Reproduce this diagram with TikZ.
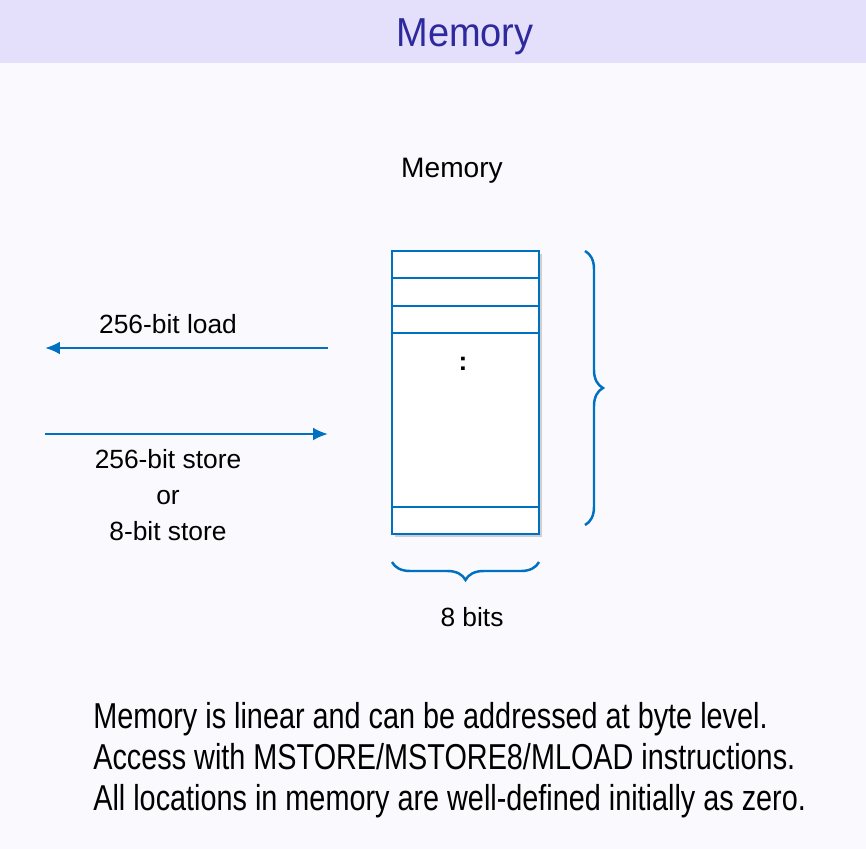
\documentclass[tikz,border=0pt]{standalone}
\usepackage{fontspec}
\setmainfont{Liberation Sans}
\newfontfamily\narrowfont[FakeStretch=0.80]{Liberation Sans}
\newfontfamily\titlefont[FakeStretch=0.94]{Liberation Sans}
\usetikzlibrary{arrows.meta,decorations.pathreplacing,shadows}
\definecolor{pagebg}{HTML}{FAFAFE}
\definecolor{headbg}{HTML}{E4E0FC}
\definecolor{headfg}{HTML}{2E2A9E}
\definecolor{lineblue}{HTML}{0070C0}
\tikzstyle{lbl}=[font=\fontsize{15}{18}\selectfont, inner sep=0]
\tikzstyle{wire}=[lineblue, line width=1.4pt]
\tikzstyle{arr}=[wire, -{Latex[length=3mm,width=2.6mm]}]
\tikzstyle{brc}=[wire, decorate, decoration={brace, amplitude=0.36cm}]

\begin{document}
\begin{tikzpicture}[x=0.02cm,y=-0.02cm]
\fill[pagebg] (0,0) rectangle (866,849);
\fill[headbg] (0,0) rectangle (866,63);
\node[text=headfg, font=\titlefont\fontsize{23}{26}\selectfont] (title) at (465,37) {Memory};
\node[lbl, font=\fontsize{16}{19}\selectfont] (memlbl) at (452,171) {Memory};
% the memory column
\node[wire, draw, fill=white, minimum width=2.94cm, minimum height=5.66cm, inner sep=0,
  drop shadow={shadow xshift=0.6mm, shadow yshift=-0.6mm, opacity=0.35}] (mem) at (465.5,392.5) {};
\foreach \y in {278,306,333,507}{\draw[wire] (mem.west |- 0,\y) -- (mem.east |- 0,\y);}
\node[font=\bfseries\fontsize{15}{18}\selectfont] (dots) at (463,364) {:};
% loads and stores
\coordinate (ltail) at (328,348);
\coordinate (lhead) at (45,348);
\coordinate (stail) at (45,434);
\coordinate (shead) at (328,434);
\draw[arr] (ltail) -- (lhead);
\draw[arr] (stail) -- (shead);
\node[lbl] (load) at (168,324) {256-bit load};
\node[lbl, align=center, font=\fontsize{15}{20.5}\selectfont] (store) at (168,495) {256-bit store\\or\\8-bit store};
% braces
\coordinate (rtop) at (585,251);
\coordinate (rbot) at (585,525);
\draw[brc] (rtop) -- (rbot);
\coordinate (bl) at (392,562);
\coordinate (br) at (539,562);
\draw[brc, decoration={mirror}] (bl) -- (br);
\node[lbl] (bits) at (472,617) {8 bits};
% notes
\node[anchor=west, inner sep=0, align=left, font=\narrowfont\fontsize{20.5}{23.2}\selectfont] (notes) at (93,760)
  {Memory is linear and can be addressed at byte level.\\
   Access with MSTORE/MSTORE8/MLOAD instructions.\\
   All locations in memory are well-defined initially as zero.};
\end{tikzpicture}
\end{document}
